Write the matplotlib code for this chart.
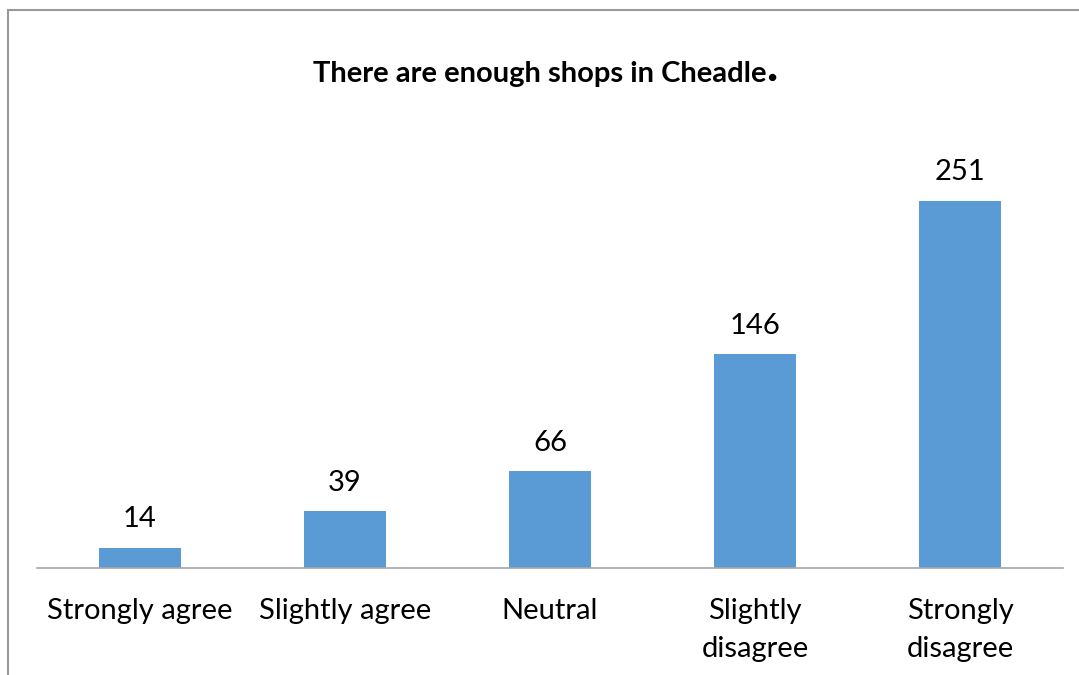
import matplotlib
matplotlib.use("Agg")
import matplotlib.pyplot as plt
from matplotlib.patches import Rectangle

categories = ["Strongly agree", "Slightly agree", "Neutral", "Slightly\ndisagree", "Strongly\ndisagree"]
values = [14, 39, 66, 146, 251]
title = "There are enough shops in Cheadle"

plt.rcParams['font.family'] = ['Lato', 'DejaVu Sans']

W, H = 1079, 675
fig = plt.figure(figsize=(W / 100, H / 100), dpi=100)

# chart frame (extends beyond right/bottom edges)
fig.patches.append(Rectangle((8 / W, -0.1), 1.2, (H - 10) / H + 0.1, transform=fig.transFigure,
                             fill=False, edgecolor="#999999", linewidth=1.5))

left, right = 37 / W, 1063 / W
bottom = (H - 568) / H
top = (H - 129) / H
ax = fig.add_axes([left, bottom, right - left, top - bottom])
x = list(range(len(categories)))
bars = ax.bar(x, values, width=0.4, color="#5B9BD5")
ax.set_xlim(-0.5, len(categories) - 0.5)
ax.set_ylim(0, 300)
for s in ["top", "right", "left"]:
    ax.spines[s].set_visible(False)
ax.spines["bottom"].set_color("#A6A6A6")
ax.spines["bottom"].set_linewidth(1.2)
ax.set_yticks([])
ax.set_xticks(x)
ax.set_xticklabels(categories, fontsize=21, linespacing=1.6)
ax.tick_params(axis="x", length=0, pad=21.5)
for b, v in zip(bars, values):
    ax.annotate(str(v), (b.get_x() + b.get_width() / 2, v), xytext=(0, 11),
                textcoords="offset points", ha="center", va="bottom", fontsize=21)

t = fig.text(0.5, (H - 74) / H, title, ha="center", va="center", fontsize=21, fontweight="bold")
fig.canvas.draw()
bb = t.get_window_extent()
fig.text((bb.x1 + 1) / W, (H - 78) / H, "\u25CF", ha="left", va="center", fontsize=11, color="black")

fig.savefig("out.png", dpi=100, facecolor="white")
